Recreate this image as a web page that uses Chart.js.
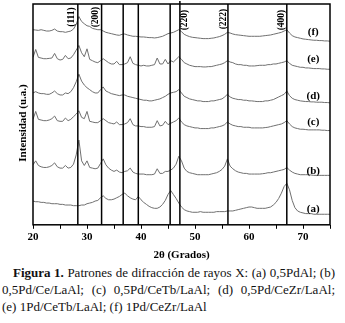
<!DOCTYPE html>
<html>
<head>
<meta charset="utf-8">
<title>Patrones de difracción de rayos X</title>
<script src="https://cdn.jsdelivr.net/npm/chart.js@4.4.1/dist/chart.umd.min.js"></script>
<style>
    html, body { margin: 0; padding: 0; background: #fff; }
    #wrap { position: relative; width: 345px; height: 323px; overflow: hidden; }
    #xrdChart { position: absolute; left: 0; top: 0; }
    .caption {
        position: absolute;
        left: 2px;
        top: 264px;
        width: 333px;
        font-family: "Liberation Serif", "Times New Roman", serif;
        font-size: 13px;
        line-height: 17px;
        color: #111;
    }
    .caption div { white-space: nowrap; text-align: justify; text-align-last: justify; }
    .caption div.first { padding-left: 11px; }
    .caption div.last { text-align-last: left; }
</style>
</head>
<body>
<div id="wrap">
    <canvas id="xrdChart" width="345" height="262"></canvas>
    <div class="caption">
        <div class="first"><b>Figura 1.</b> Patrones de difracción de rayos X: (a) 0,5PdAl; (b)</div>
        <div>0,5Pd/Ce/LaAl; (c) 0,5Pd/CeTb/LaAl; (d) 0,5Pd/CeZr/LaAl;</div>
        <div class="last">(e) 1Pd/CeTb/LaAl; (f) 1Pd/CeZr/LaAl</div>
    </div>
</div>

<script>
// 2θ grid (grados)
const twoTheta = [
    20, 20.5, 21, 21.5, 22, 22.5, 23, 23.5, 24, 24.5, 25, 25.5, 26, 26.5, 27, 27.5, 28, 28.5, 29, 29.5,
    30, 30.5, 31, 31.5, 32, 32.5, 33, 33.5, 34, 34.5, 35, 35.5, 36, 36.5, 37, 37.5, 38, 38.5, 39, 39.5,
    40, 40.5, 41, 41.5, 42, 42.5, 43, 43.5, 44, 44.5, 45, 45.5, 46, 46.5, 47, 47.5, 48, 48.5, 49, 49.5,
    50, 50.5, 51, 51.5, 52, 52.5, 53, 53.5, 54, 54.5, 55, 55.5, 56, 56.5, 57, 57.5, 58, 58.5, 59, 59.5,
    60, 60.5, 61, 61.5, 62, 62.5, 63, 63.5, 64, 64.5, 65, 65.5, 66, 66.5, 67, 67.5, 68, 68.5, 69, 69.5,
    70, 70.5, 71, 71.5, 72, 72.5, 73, 73.5, 74, 74.5, 75
];

// intensities (u.a.), patterns stacked with offset as in the figure
const seriesA = [
    72, 70, 70, 68, 68, 66, 66, 64, 64, 64, 62, 62, 60, 60, 60, 58, 58, 58, 60, 60,
    64, 66, 68, 72, 74, 82, 88, 80, 76, 76, 78, 82, 86, 92, 96, 88, 82, 78, 76, 86,
    76, 68, 62, 56, 52, 50, 50, 54, 62, 74, 92, 104, 92, 80, 66, 54, 46, 42, 40, 38,
    38, 38, 40, 38, 38, 38, 38, 38, 40, 40, 40, 40, 42, 42, 42, 44, 46, 48, 50, 52,
    54, 54, 52, 50, 50, 50, 50, 52, 54, 60, 68, 80, 96, 116, 126, 106, 74, 52, 42, 38,
    36, 34, 34, 34, 32, 32, 32, 32, 32, 32, 32
];
const seriesB = [
    182, 194, 180, 176, 174, 174, 176, 180, 188, 176, 172, 172, 180, 172, 174, 184, 212, 257, 194, 180,
    194, 174, 172, 170, 172, 186, 200, 182, 172, 166, 162, 166, 160, 158, 162, 164, 172, 160, 156, 154,
    154, 154, 152, 152, 152, 154, 170, 156, 156, 162, 162, 166, 172, 184, 208, 194, 172, 162, 158, 156,
    154, 152, 152, 152, 152, 152, 154, 156, 158, 162, 168, 178, 200, 178, 170, 164, 160, 158, 156, 156,
    154, 154, 154, 154, 154, 155, 156, 158, 158, 160, 162, 164, 166, 168, 174, 166, 160, 156, 154, 152,
    152, 152, 152, 151, 150, 150, 150, 150, 150, 150, 150
];
const seriesC = [
    320, 344, 320, 318, 316, 316, 318, 322, 330, 316, 314, 314, 324, 316, 320, 328, 336, 346, 326, 322,
    344, 314, 312, 310, 310, 316, 322, 316, 310, 308, 306, 312, 304, 304, 306, 310, 322, 304, 300, 300,
    298, 298, 296, 296, 296, 298, 316, 300, 302, 314, 304, 308, 312, 316, 324, 312, 304, 300, 298, 296,
    294, 294, 292, 292, 292, 292, 294, 294, 296, 298, 300, 304, 312, 306, 302, 300, 298, 298, 296, 296,
    296, 294, 294, 294, 294, 294, 295, 296, 298, 300, 302, 304, 306, 310, 316, 306, 298, 294, 292, 290,
    290, 289, 288, 288, 288, 288, 288, 287, 287, 286, 286
];
const seriesD = [
    400, 404, 400, 398, 398, 396, 396, 400, 406, 398, 394, 394, 400, 398, 404, 416, 434, 457, 436, 424,
    416, 410, 404, 400, 400, 410, 418, 406, 402, 398, 396, 394, 392, 394, 394, 390, 388, 386, 384, 382,
    380, 378, 378, 376, 376, 378, 380, 382, 386, 390, 396, 400, 402, 404, 410, 400, 390, 386, 382, 380,
    378, 376, 376, 374, 374, 374, 376, 376, 378, 380, 382, 388, 396, 388, 384, 382, 380, 380, 378, 378,
    376, 376, 375, 374, 374, 374, 376, 376, 378, 380, 384, 388, 392, 396, 406, 392, 384, 380, 378, 376,
    375, 374, 374, 373, 373, 372, 372, 372, 371, 371, 370
];
const seriesE = [
    508, 532, 508, 506, 504, 504, 505, 506, 520, 504, 500, 502, 514, 504, 506, 516, 530, 544, 522, 510,
    534, 502, 498, 494, 492, 498, 504, 498, 492, 488, 488, 496, 486, 486, 488, 492, 510, 490, 486, 484,
    482, 484, 482, 482, 484, 486, 506, 488, 488, 502, 488, 498, 494, 502, 510, 502, 492, 488, 484, 482,
    480, 480, 480, 479, 479, 480, 480, 482, 484, 486, 488, 492, 498, 494, 492, 488, 486, 486, 484, 484,
    482, 482, 482, 483, 484, 484, 484, 486, 486, 488, 488, 490, 492, 494, 498, 490, 484, 482, 480, 478,
    478, 476, 476, 475, 474, 474, 474, 473, 473, 472, 472
];
const seriesF = [
    592, 591, 590, 592, 590, 588, 588, 590, 594, 588, 586, 586, 584, 586, 588, 594, 608, 632, 617, 610,
    604, 602, 596, 594, 592, 592, 588, 584, 582, 580, 578, 576, 575, 578, 579, 576, 574, 572, 572, 571,
    570, 570, 569, 568, 568, 567, 568, 570, 572, 576, 580, 582, 584, 588, 592, 586, 578, 574, 571, 569,
    568, 567, 566, 565, 565, 565, 566, 567, 569, 571, 574, 578, 584, 582, 579, 577, 576, 575, 574, 573,
    572, 572, 572, 572, 572, 573, 574, 575, 576, 578, 580, 582, 584, 588, 592, 582, 574, 570, 568, 566,
    564, 563, 562, 561, 560, 560, 559, 559, 558, 558, 557
];

const sampleLabels = ['(a)', '(b)', '(c)', '(d)', '(e)', '(f)'];
const sampleSeries = [seriesA, seriesB, seriesC, seriesD, seriesE, seriesF];

// reflections marked with vertical lines
const refLines = [28.3, 32.7, 36.7, 39.5, 45.4, 47.2, 56.1, 67.0];
const hklLabels = ['(111)', '(200)', '(220)', '(222)', '(400)'];
const hklTheta = [28.3, 32.7, 47.2, 56.1, 67.0];

const xTicks = [20, 30, 40, 50, 60, 70];

const serif = '"Liberation Serif", "Times New Roman", serif';

// draw frame, reference lines and all the annotations
const decorations = {
    id: 'decorations',
    afterDraw(chart) {
        const ctx = chart.ctx;
        const a = chart.chartArea;
        const x = chart.scales.x;
        const y = chart.scales.y;
        ctx.save();
        ctx.strokeStyle = '#000';
        ctx.fillStyle = '#000';

        // vertical lines
        ctx.lineWidth = 1.5;
        refLines.forEach(t => {
            const px = x.getPixelForValue(t);
            ctx.beginPath();
            ctx.moveTo(px, t === 47.2 ? a.top - 3 : a.top);
            ctx.lineTo(px, a.bottom);
            ctx.stroke();
        });

        // frame
        ctx.lineWidth = 1.5;
        ctx.strokeRect(a.left, a.top, a.right - a.left, a.bottom - a.top);

        // hkl labels (rotated)
        const hklDx = [-6, -6.5, 4.5, -4.5, -5.5];
        const hklDy = [13, 13, 16, 15, 16];
        ctx.font = 'bold 9.5px ' + serif;
        ctx.textAlign = 'center';
        ctx.textBaseline = 'middle';
        hklLabels.forEach((lab, i) => {
            ctx.save();
            ctx.translate(x.getPixelForValue(hklTheta[i]) + hklDx[i], a.top + hklDy[i]);
            ctx.rotate(-Math.PI / 2);
            ctx.fillText(lab, 0, 0);
            ctx.restore();
        });

        // sample labels
        const labelY = [46, 162, 310, 390, 502, 586];
        ctx.font = 'bold 11px ' + serif;
        sampleLabels.forEach((lab, i) => {
            ctx.fillText(lab, x.getPixelForValue(71.9), y.getPixelForValue(labelY[i]));
        });

        // axis titles
        ctx.fillText('2θ (Grados)', (a.left + a.right) / 2, 255);
        ctx.save();
        ctx.translate(23, 123);
        ctx.rotate(-Math.PI / 2);
        ctx.fillText('Intensidad (u.a.)', 0, 0);
        ctx.restore();

        ctx.restore();
    }
};

document.addEventListener('DOMContentLoaded', function() {
    const ctx = document.getElementById('xrdChart');

    new Chart(ctx, {
        type: 'line',
        data: {
            datasets: sampleSeries.map((s, i) => ({
                label: sampleLabels[i],
                data: twoTheta.map((t, j) => ({ x: t, y: s[j] })),
                borderColor: '#707070',
                borderWidth: 1,
                pointRadius: 0,
                tension: 0,
                fill: false
            }))
        },
        options: {
            responsive: false,
            animation: false,
            devicePixelRatio: 1,
            layout: {
                padding: { left: 33, right: 15, top: 4, bottom: 16 }
            },
            plugins: {
                legend: { display: false },
                tooltip: { enabled: false }
            },
            scales: {
                x: {
                    type: 'linear',
                    min: 20,
                    max: 75,
                    border: { display: false },
                    grid: {
                        drawOnChartArea: false,
                        drawTicks: true,
                        tickLength: 4,
                        color: '#000'
                    },
                    ticks: {
                        stepSize: 5,
                        autoSkip: false,
                        maxRotation: 0,
                        padding: 2,
                        color: '#000',
                        font: { family: serif, size: 11, weight: 'bold' },
                        callback: function(value) {
                            return xTicks.includes(value) ? String(value) : '';
                        }
                    }
                },
                y: {
                    display: false,
                    min: 0,
                    max: 670
                }
            }
        },
        plugins: [decorations]
    });
});
</script>
</body>
</html>
